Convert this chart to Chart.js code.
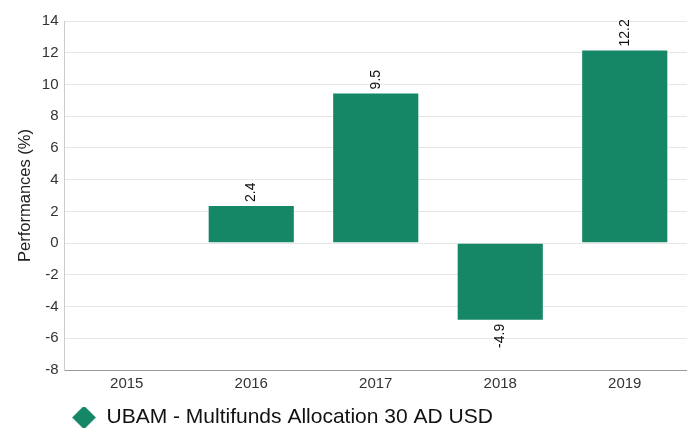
<!DOCTYPE html>
<html>
<head>
<meta charset="utf-8">
<script src="https://cdn.jsdelivr.net/npm/chart.js@4"></script>
<style>
  html, body { margin: 0; padding: 0; background: #fff; }
  #wrap { width: 687px; height: 428px; }
</style>
</head>
<body>
<div id="wrap"><canvas id="chart"></canvas></div>
<script>
var years = ["2015", "2016", "2017", "2018", "2019"];
var performances = [null, 2.4, 9.5, -4.9, 12.2];
var seriesName = "UBAM - Multifunds Allocation 30 AD USD";
var barColor = "#158766";
var fontFamily = "'Liberation Sans', Arial, sans-serif";

// rotated value labels above / below each bar
var barLabels = {
  id: "barLabels",
  afterDatasetsDraw: function (chart) {
    var ctx = chart.ctx;
    var meta = chart.getDatasetMeta(0);
    ctx.save();
    ctx.font = "14px " + fontFamily;
    ctx.fillStyle = "#111";
    ctx.textBaseline = "middle";
    meta.data.forEach(function (bar, i) {
      var v = performances[i];
      if (v === null) return;
      ctx.save();
      if (v >= 0) {
        ctx.translate(bar.x, bar.y - 3);
        ctx.rotate(-Math.PI / 2);
        ctx.textAlign = "left";
      } else {
        ctx.translate(bar.x, bar.y + 3);
        ctx.rotate(-Math.PI / 2);
        ctx.textAlign = "right";
      }
      ctx.fillText(v.toFixed(1), 0, 0);
      ctx.restore();
    });
    ctx.restore();
  }
};

// push the legend to start under the plot area
var legendShift = {
  id: "legendShift",
  afterLayout: function (chart) {
    chart.legend.left = 72;
  }
};

new Chart(document.getElementById("chart"), {
  type: "bar",
  data: {
    labels: years,
    datasets: [{
      label: seriesName,
      data: performances,
      backgroundColor: barColor,
      borderColor: "rgba(255,255,255,0.35)",
      borderWidth: 1,
      barPercentage: 0.7,
      categoryPercentage: 1
    }]
  },
  options: {
    responsive: true,
    maintainAspectRatio: false,
    animation: false,
    // legend adds a fixed 10px below itself, cancel it
    layout: { padding: { top: 21, right: -4, left: 16, bottom: -10 } },
    scales: {
      x: {
        grid: { display: false, drawTicks: false },
        border: { color: "#999" },
        ticks: { color: "#333", font: { size: 15, family: fontFamily }, padding: 5 },
        afterFit: function (scale) { scale.height = 37; }
      },
      y: {
        min: -8,
        max: 14,
        ticks: { stepSize: 2, color: "#333", font: { size: 15, family: fontFamily }, padding: 6 },
        grid: { color: "#e6e6e6", drawTicks: false },
        border: { color: "#ccc" },
        title: {
          display: true,
          text: "Performances (%)",
          color: "#222",
          font: { size: 16.5, family: fontFamily },
          padding: { top: 0, bottom: 0 }
        }
      }
    },
    plugins: {
      legend: {
        position: "bottom",
        align: "start",
        labels: {
          usePointStyle: true,
          pointStyle: "rectRot",
          pointStyleWidth: 24,
          boxWidth: 24,
          boxHeight: 17,
          color: "#111",
          padding: 0,
          font: { size: 21, family: fontFamily, lineHeight: 1 }
        }
      },
      tooltip: { enabled: false }
    }
  },
  plugins: [barLabels, legendShift]
});
</script>
</body>
</html>
